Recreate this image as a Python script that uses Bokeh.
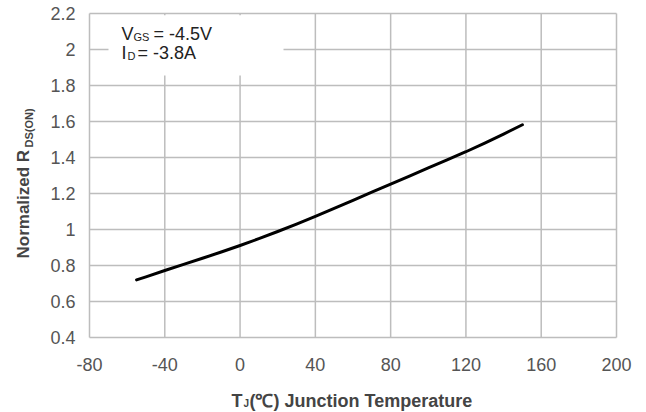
import math
from bokeh.plotting import figure
from bokeh.models import Label, Range1d, ColumnDataSource
from bokeh.core.properties import value
from bokeh.embed import file_html
from bokeh.resources import INLINE

# ---- data ----
temp_c = [-55, -50, -40, -30, -20, -10, 0, 10, 20, 30, 40, 50, 60, 70, 80, 90, 100, 110, 120, 130, 140, 150]
rds_norm = [0.720, 0.737, 0.772, 0.806, 0.840, 0.875, 0.911, 0.949, 0.989, 1.030, 1.073, 1.117, 1.162, 1.207, 1.252, 1.297, 1.342, 1.387, 1.432, 1.480, 1.530, 1.582]
x_ticks = [-80, -40, 0, 40, 80, 120, 160, 200]
x_tick_text = ["-80", "-40", "0", "40", "80", "120", "160", "200"]
y_ticks = [0.4, 0.6, 0.8, 1.0, 1.2, 1.4, 1.6, 1.8, 2.0, 2.2]
y_tick_text = ["0.4", "0.6", "0.8", "1", "1.2", "1.4", "1.6", "1.8", "2", "2.2"]

# ---- layout (pixels) ----
W, H = 646, 412
PL, PR, PT, PB = 89, 616, 13, 337          # plot-area edges in pixels
X0, X1 = x_ticks[0], x_ticks[-1]
Y0, Y1 = y_ticks[0], y_ticks[-1]
sx = (PR - PL) / (X1 - X0)                 # px per degree
sy = (PB - PT) / (Y1 - Y0)                 # px per unit
def dx(px):  # pixel x -> data x
    return X0 + (px - PL) / sx
def dy(py):  # pixel y (from top) -> data y
    return Y0 + (PB - py) / sy

FONT = "Liberation Sans"
GRID = "#bdbdbd"

p = figure(width=W, height=H, output_backend="svg", toolbar_location=None,
           x_range=Range1d(dx(0), dx(W)), y_range=Range1d(dy(H), dy(0)),
           x_axis_location=None, y_axis_location=None, min_border=0)
p.center = []
p.outline_line_color = None
p.background_fill_color = "white"
p.border_fill_color = "white"

# grid lines limited to the plot area
nx, ny = len(x_ticks), len(y_ticks)
p.segment(x0=x_ticks, x1=x_ticks, y0=[Y0] * nx, y1=[Y1] * nx, line_color=GRID, line_width=1.5)
p.segment(x0=[X0] * ny, x1=[X1] * ny, y0=y_ticks, y1=y_ticks, line_color=GRID, line_width=1.5)

# white box behind the test-condition text
p.quad(left=[dx(108)], right=[dx(283)], bottom=[dy(75)], top=[dy(14.8)],
       fill_color="white", line_color=None)

# the curve
p.line(temp_c, rds_norm, line_color="black", line_width=3, line_join="round", line_cap="round")

# tick labels
TICK = "#555555"
xsrc = ColumnDataSource(dict(x=x_ticks, y=[dy(PB + 20)] * nx, t=x_tick_text))
p.text(x="x", y="y", text="t", source=xsrc, text_font=value(FONT), text_font_size="18px",
       text_color=TICK, text_align="center", text_baseline="top")
ysrc = ColumnDataSource(dict(x=[dx(PL - 14)] * ny, y=y_ticks, t=y_tick_text))
p.text(x="x", y="y", text="t", source=ysrc, text_font=value(FONT), text_font_size="18px",
       text_color=TICK, text_align="right", text_baseline="middle")

TXT = "#222222"
AX = "#444444"
def lab(px, py, t, size, bold=False, color=TXT, angle=0.0, baseline="alphabetic"):
    p.add_layout(Label(x=dx(px), y=dy(py), text=t, text_font=FONT, text_font_size=size,
                       text_font_style="bold" if bold else "normal", text_color=color,
                       angle=angle, text_baseline=baseline, text_align="left"))

# test-condition annotation
lab(121, 33, "V", "18px")
lab(133, 36, "GS", "11px")
lab(153, 33, "= -4.5V", "18px")
lab(121, 52, "I", "18px")
lab(127, 55, "D", "11px")
lab(137, 52, "= -3.8A", "18px")

# axis titles
lab(231, 400, "T", "18px", bold=True, color=AX)
lab(243, 403, "J", "10px", bold=True, color=AX)
lab(249, 400, "(\u2103) Junction Temperature", "18px", bold=True, color=AX)

lab(23, 258, "Normalized R", "17px", bold=True, color=AX, angle=math.pi / 2, baseline="middle")
lab(28, 147, "DS(ON)", "11px", bold=True, color=AX, angle=math.pi / 2, baseline="middle")

open("out.html", "w").write(file_html(p, INLINE))
